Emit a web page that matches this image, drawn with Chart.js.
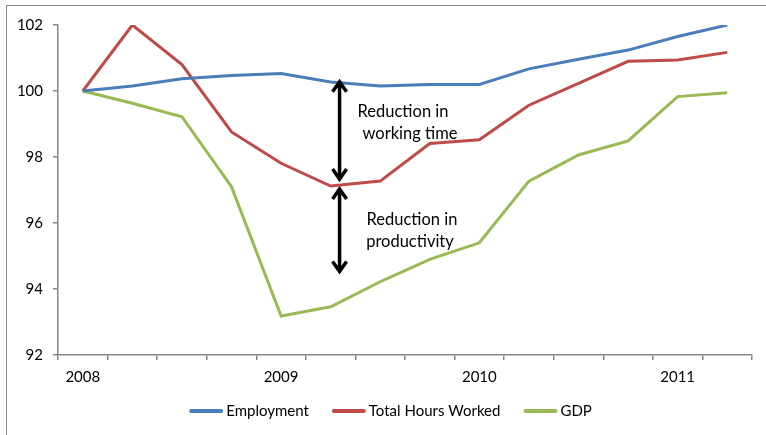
<!DOCTYPE html>
<html>
<head>
<meta charset="utf-8">
<script src="https://cdn.jsdelivr.net/npm/chart.js@4/dist/chart.umd.min.js"></script>
<style>
  html, body { margin: 0; padding: 0; background: #fff; overflow: hidden; }
  #wrap { position: relative; width: 766px; height: 435px; }
  #frame { position: absolute; left: 6px; top: 5px; width: 820px; height: 520px; border: 1px solid #8c8c8c; }
  canvas { position: absolute; left: 0; top: 0; }
</style>
</head>
<body>
<div id="wrap">
  <div id="frame"></div>
  <canvas id="chart" width="766" height="435"></canvas>
</div>
<script>
// ---- DATA (index, 2008Q1 = 100) ----
const quarters = ['2008Q1', '2008Q2', '2008Q3', '2008Q4', '2009Q1', '2009Q2', '2009Q3', '2009Q4',
                  '2010Q1', '2010Q2', '2010Q3', '2010Q4', '2011Q1', '2011Q2'];
const employment  = [100, 100.15, 100.37, 100.47, 100.53, 100.27, 100.15, 100.2, 100.2, 100.67, 100.96, 101.24, 101.65, 102.0];
const hoursWorked = [100, 102.0, 100.8, 98.76, 97.81, 97.12, 97.27, 98.41, 98.52, 99.57, 100.23, 100.9, 100.94, 101.17];
const gdp         = [100, 99.63, 99.22, 97.1, 93.18, 93.46, 94.22, 94.9, 95.4, 97.27, 98.06, 98.49, 99.83, 99.95];
const seriesNames = ['Employment', 'Total Hours Worked', 'GDP'];

// ---- ANNOTATIONS (data units) ----
const arrowX = 5.18;
const arrowSpans = [[100.31, 97.3], [97.06, 94.5]];
const noteText = ['Reduction in', 'working time', 'Reduction in', 'productivity'];
const noteX = [6.46, 6.6, 6.64, 6.6];
const noteY = [99.36, 98.7, 96.09, 95.42];

// ---- STYLE ----
const FONT = 'Lato, "Open Sans", sans-serif';
const AXIS = '#868686';
const COLORS = ['#4a7ebb', '#be4b48', '#98b954'];

function line(label, data, color) {
    return { label, data, borderColor: color, backgroundColor: color, borderWidth: 3,
             pointRadius: 0, tension: 0, fill: false };
}

// arrows + text between the curves
const gapArrows = {
    id: 'gapArrows',
    afterDatasetsDraw(chart) {
        const { ctx, scales: { x, y } } = chart;
        const px = x.getPixelForValue(arrowX);
        ctx.save();
        ctx.strokeStyle = '#000';
        ctx.lineWidth = 3.5;
        ctx.lineJoin = 'miter';
        arrowSpans.forEach(([hi, lo]) => {
            const t = y.getPixelForValue(hi), b = y.getPixelForValue(lo);
            ctx.beginPath();
            ctx.moveTo(px, t + 1); ctx.lineTo(px, b - 1);
            ctx.moveTo(px - 7, t + 11); ctx.lineTo(px, t + 1); ctx.lineTo(px + 7, t + 11);
            ctx.moveTo(px - 7, b - 11); ctx.lineTo(px, b - 1); ctx.lineTo(px + 7, b - 11);
            ctx.stroke();
        });
        ctx.fillStyle = '#000';
        ctx.font = '16.5px ' + FONT;
        ctx.textAlign = 'center';
        ctx.textBaseline = 'middle';
        noteText.forEach((s, i) => ctx.fillText(s, x.getPixelForValue(noteX[i]), y.getPixelForValue(noteY[i])));
        ctx.restore();
    }
};

// legend row under the axis
const legendRow = {
    id: 'legendRow',
    afterDraw(chart) {
        const { ctx } = chart;
        const sample = 34, gap = 3, space = 23, cy = 411;
        ctx.save();
        ctx.font = '15px ' + FONT;
        const items = chart.data.datasets.map(d => ({ d, w: ctx.measureText(d.label).width }));
        const total = items.reduce((s, it) => s + sample + gap + it.w, 0) + space * (items.length - 1);
        let cx = 390.5 - total / 2;
        items.forEach(({ d, w }) => {
            ctx.strokeStyle = d.borderColor;
            ctx.lineWidth = 4;
            ctx.lineCap = 'round';
            ctx.beginPath();
            ctx.moveTo(cx + 2, cy); ctx.lineTo(cx + sample - 2, cy);
            ctx.stroke();
            ctx.fillStyle = '#000';
            ctx.textBaseline = 'middle';
            ctx.fillText(d.label, cx + sample + gap, cy);
            cx += sample + gap + w + space;
        });
        ctx.restore();
    }
};

new Chart(document.getElementById('chart'), {
    type: 'line',
    data: {
        labels: quarters,
        datasets: [line(seriesNames[0], employment, COLORS[0]),
                   line(seriesNames[1], hoursWorked, COLORS[1]),
                   line(seriesNames[2], gdp, COLORS[2])],
    },
    options: {
        responsive: false, devicePixelRatio: 1, animation: false,
        layout: { padding: { top: 25, right: 14, left: 0, bottom: 0 } },
        plugins: { legend: { display: false }, tooltip: { enabled: false } },
        scales: {
            x: {
                offset: true,
                afterFit: s => { s.height = 80; },
                grid: { offset: true, drawOnChartArea: false, tickLength: 5, color: AXIS, lineWidth: 1.5 },
                border: { color: AXIS, width: 1.5 },
                ticks: { autoSkip: false, maxRotation: 0, padding: 8, color: '#000',
                         font: { family: FONT, size: 15 },
                         callback: (v, i) => quarters[i].endsWith('Q1') ? quarters[i].slice(0, 4) : '' },
            },
            y: {
                min: 92, max: 102,
                afterFit: s => { s.width = 58; },
                grid: { drawOnChartArea: false, tickLength: 5, color: AXIS, lineWidth: 1.5 },
                border: { color: AXIS, width: 1.5 },
                ticks: { stepSize: 2, padding: 10, color: '#000', font: { family: FONT, size: 15 } },
            },
        },
    },
    plugins: [gapArrows, legendRow],
});
</script>
</body>
</html>
